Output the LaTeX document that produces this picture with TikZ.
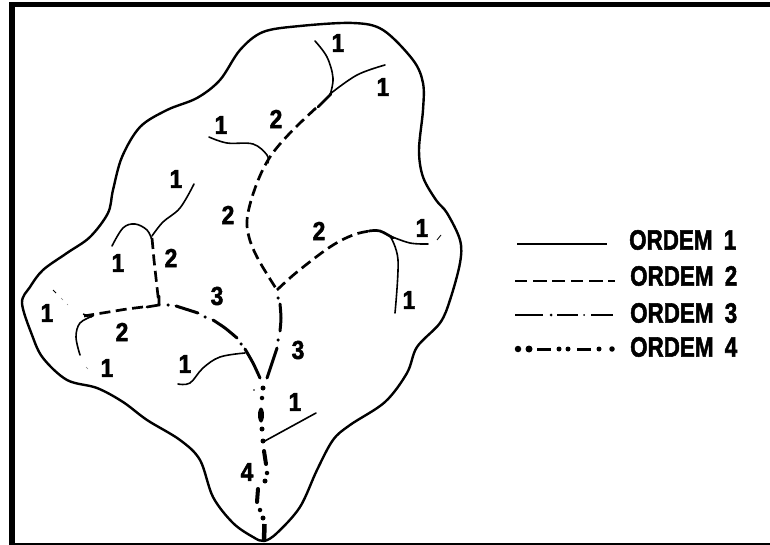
\documentclass[tikz,border=0pt]{standalone}
\usepackage{fontspec}
\usetikzlibrary{shapes.geometric}
\newfontfamily\labfont[FakeBold=2]{Liberation Sans Bold}
\tikzset{
  x=1pt,y=-1pt,
  frame/.style={fill=black,draw=none},
  basin/.style={line width=2.4pt,line join=round,line cap=round},
  ordone/.style={line width=1.6pt,line cap=round},
  ordtwo/.style={line width=2.7pt,dash pattern=on 11pt off 5.5pt},
  ordtwosolid/.style={line width=2.7pt,line cap=round},
  ordthree/.style={line width=3pt,line cap=round},
  ordfour/.style={line width=4pt,line cap=round},
  thin speck/.style={line width=0.7pt,gray},
  dotmark/.style={fill=black,draw=none,circle,inner sep=0pt,minimum size=#1},
  num/.style={font=\labfont\fontsize{26}{26}\selectfont,inner sep=0pt,xscale=0.88,transform shape,text=black},
  legend text/.style={font=\labfont\fontsize{28}{28}\selectfont,inner sep=0pt,anchor=west,xscale=0.8,transform shape,text=black},
}
\begin{document}
\begin{tikzpicture}
\useasboundingbox (0,0) rectangle (770,545);
% frame
\fill[frame] (9,2) rectangle (770,7.5);
\fill[frame] (9,2) rectangle (15,545);
\fill[frame] (9,542.7) rectangle (770,545);
% basin outline
\draw[basin] plot[smooth cycle,tension=0.55] coordinates {
 (264,541) (253,537) (233,523) (213,497) (200,460) (180,440) (147,420) (123,402) (97,388) (67,380)
 (43,358) (32,335) (22,303) (30,287) (43,270) (67,253) (90,237) (108,213) (113,190) (122,157)
 (140,127) (167,110) (197,98) (220,80) (240,50) (263,32) (300,26) (353,23) (383,30) (413,60)
 (423,83) (423,110) (419,150) (423,177) (436,200) (447,213) (460,240) (460,263) (450,300)
 (440,323) (417,347) (407,373) (385,402) (350,425) (333,440) (317,470) (300,507) (277,533)};
% order 1 streams
\draw[ordone] plot[smooth,tension=0.6] coordinates {(315,41) (327,57) (333,78) (330,95)};
\draw[ordone] plot[smooth,tension=0.6] coordinates {(385,65) (357,75) (330,94)};
\draw[ordone] plot[smooth,tension=0.6] coordinates {(209,137) (227,143) (253,144) (267,155) (268,163)};
\draw[ordone] plot[smooth,tension=0.6] coordinates {(390,236) (410,243) (428,244)};
\draw[ordone] plot[smooth,tension=0.6] coordinates {(390,236) (398,260) (395,313)};
\draw[ordone] plot[smooth,tension=0.6] coordinates {(112,246) (123,228) (135,224) (147,230) (152,240)};
\draw[ordone] plot[smooth,tension=0.6] coordinates {(194,184) (180,208) (163,222) (152,236)};
\draw[ordone] plot[smooth,tension=0.6] coordinates {(93,316) (80,323) (76,337) (80,355)};
\draw[ordone] plot[smooth,tension=0.6] coordinates {(178,384) (190,383) (203,368) (220,357) (245,353)};
\draw[ordone] (263,442) -- (316,413);
% specks of order 1
\draw[line width=0.8pt] (437,240) -- (441,235);
\draw[line width=1pt] (53,290) -- (56,293);
\draw[thin speck] (61,298) -- (63,300) (67,304) -- (68,305) (86,367) -- (88,369);
% order 2 streams
\draw[ordtwosolid] (331,94) -- (318,107);
\draw[ordtwo] plot[smooth,tension=0.6] coordinates {(316,108) (290,133) (270,157) (257,183) (248,213) (248,233) (257,257) (277,290)};
\draw[ordtwo] plot[smooth,tension=0.6] coordinates {(277,290) (297,272) (330,247) (353,235) (370,231)};
\draw[ordtwosolid] plot[smooth,tension=0.6] coordinates {(369,231) (380,231) (393,238)};
\draw[ordtwo] (152,238) -- (154,260) -- (159,305);
\draw[ordtwosolid] (159,296) -- (159,305) -- (147,307);
\draw[ordtwo] (143,307) -- (127,309) -- (84,316);
\draw[line width=1.3pt] (83,314) -- (92,317);
% order 3 streams
\draw[ordthree] (176,306) -- (198,313);
\draw[ordthree] plot[smooth,tension=0.5] coordinates {(213,320) (225,328) (237,338)};
\draw[ordthree] plot[smooth,tension=0.5] coordinates {(245,349) (253,363) (260,378)};
\draw[ordthree] plot[smooth,tension=0.5] coordinates {(280,304) (281,318) (280,331)};
\draw[ordthree] (277,348) -- (267,378);
\node[dotmark=3.5pt] (d3a) at (168,305) {};
\node[dotmark=3.5pt] (d3b) at (205,317) {};
\node[dotmark=3.5pt] (d3c) at (241,344) {};
\node[dotmark=3.5pt] (d3d) at (278,298) {};
\node[dotmark=3.5pt] (d3e) at (278,340) {};
% order 4 stream
\node[dotmark=5pt] (d4a) at (263,388) {};
\node[dotmark=1.8pt] (d4s) at (254,390) {};
\node[dotmark=4.5pt] (d4b) at (262,398) {};
\node[fill=black,draw=none,ellipse,inner sep=0pt,minimum width=6pt,minimum height=15pt] (d4c) at (261,415) {};
\node[dotmark=5pt] (d4d) at (262,429) {};
\node[dotmark=5pt] (d4e) at (263,441) {};
\draw[ordfour] (264,451) -- (266,464);
\node[dotmark=4.5pt] (d4f) at (267,473) {};
\node[dotmark=5pt] (d4g) at (265,481) {};
\draw[ordfour] (258,489) -- (257,502);
\node[dotmark=4.5pt] (d4h) at (260,510) {};
\node[dotmark=5pt] (d4i) at (263,518) {};
\draw[line width=4.5pt] (264.5,524) -- (264,541);
% numbers
\node[num] (n1) at (338,43) {1};
\node[num] (n2) at (383,87) {1};
\node[num] (n3) at (221,125) {1};
\node[num] (n4) at (276,119) {2};
\node[num] (n5) at (176,179) {1};
\node[num] (n6) at (228,215) {2};
\node[num] (n7) at (319,231) {2};
\node[num] (n8) at (118,263) {1};
\node[num] (n9) at (171,258) {2};
\node[num] (n10) at (422,228) {1};
\node[num] (n11) at (409,300) {1};
\node[num] (n12) at (298,350) {3};
\node[num] (n13) at (217,296) {3};
\node[num] (n14) at (47,313) {1};
\node[num] (n15) at (122,332) {2};
\node[num] (n16) at (107,368) {1};
\node[num] (n17) at (185,364) {1};
\node[num] (n18) at (295,402) {1};
\node[num] (n19) at (247,472) {4};
% legend
\node[legend text] (l1) at (629,240) {ORDEM\hspace{0.5em}1};
\node[legend text] (l2) at (630,276) {ORDEM\hspace{0.5em}2};
\node[legend text] (l3) at (630,313) {ORDEM\hspace{0.5em}3};
\node[legend text] (l4) at (630,347) {ORDEM\hspace{0.5em}4};
\draw[line width=1.8pt] (517,244) -- (607,244);
\draw[line width=2pt] (515,281) -- (527,281) (533,281) -- (547,281) (552,281) -- (565,281)
  (571,281) -- (583,281) (589,281) -- (603,281) (608,281) -- (615,281);
\draw[line width=2pt] (515,315) -- (543,315) (557,315) -- (578,315) (591,315) -- (613,315);
\node[dotmark=3pt] (ld1) at (551,315) {};
\node[dotmark=2pt] (ld2) at (584,315) {};
\node[dotmark=6.5pt] (ld3) at (518,349) {};
\node[dotmark=7pt] (ld4) at (529,349) {};
\draw[line width=3pt] (537,349) -- (551,349) (577,349) -- (591,349);
\node[dotmark=5pt] (ld5) at (559,349) {};
\node[dotmark=5pt] (ld6) at (568,349) {};
\node[dotmark=5pt] (ld7) at (599,349) {};
\node[dotmark=5.5pt] (ld8) at (612,349) {};
\end{tikzpicture}
\end{document}
